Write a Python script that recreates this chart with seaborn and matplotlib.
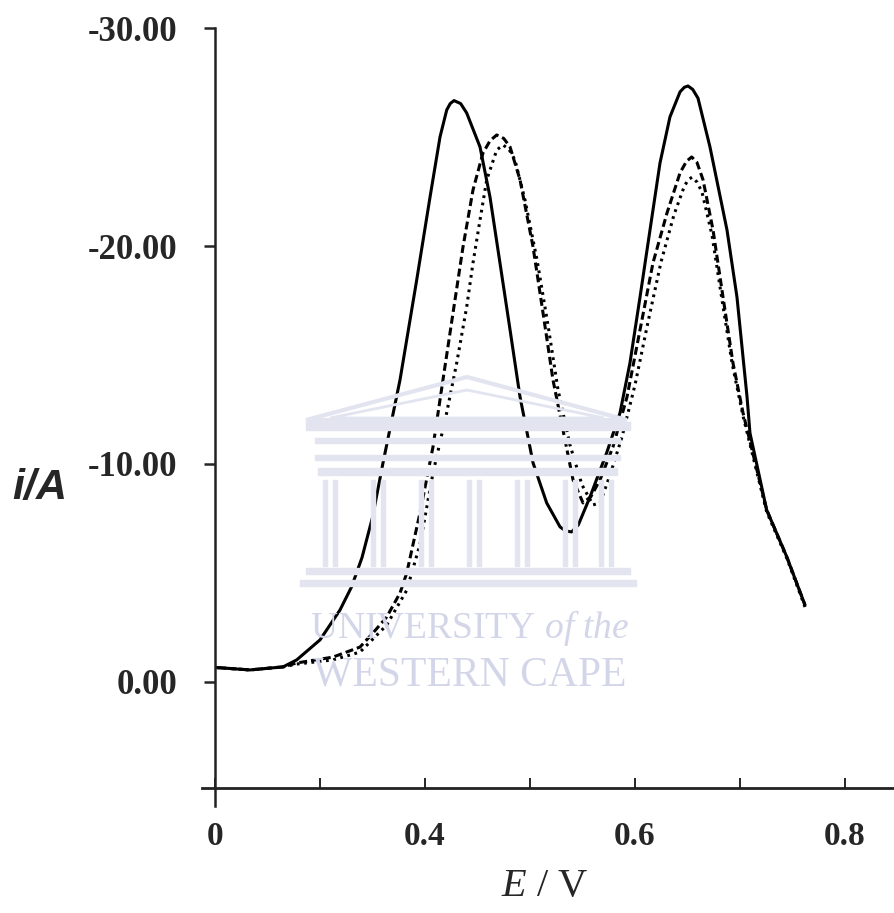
import numpy as np
import pandas as pd
import matplotlib
matplotlib.use('Agg')
import matplotlib.pyplot as plt
from matplotlib.patches import Polygon, Rectangle
import seaborn as sns

# ── Data (E in V, i in A) ────────────────────────────────────────────────────
E_solid = [0.2016, 0.2333, 0.2648, 0.2778, 0.3000, 0.3190, 0.3300, 0.3400,
           0.3500, 0.3600, 0.3762, 0.3921, 0.4048, 0.4143, 0.4207, 0.4240,
           0.4276, 0.4340, 0.4397, 0.4524, 0.4619, 0.4714, 0.4810, 0.4905,
           0.5029, 0.5159, 0.5286, 0.5340, 0.5397, 0.5460, 0.5571, 0.5730,
           0.5857, 0.5952, 0.6048, 0.6143, 0.6238, 0.6333, 0.6429, 0.6470,
           0.6505, 0.6550, 0.6600, 0.6714, 0.6876, 0.6971, 0.7067, 0.7095,
           0.7254, 0.7445, 0.7619]
i_solid = [-0.65, -0.54, -0.68, -1.00, -1.92, -3.29, -4.35, -5.70,
           -7.55, -10.05, -13.86, -18.45, -22.26, -25.02, -26.26, -26.55,
           -26.69, -26.55, -26.12, -24.56, -22.26, -19.23, -16.16, -13.08,
           -10.05, -8.21, -7.11, -6.92, -6.88, -7.20, -8.48, -10.51,
           -12.34, -14.64, -17.67, -20.75, -23.82, -25.94, -27.09, -27.30,
           -27.36, -27.20, -26.80, -24.56, -20.75, -17.67, -13.08, -11.42,
           -7.89, -5.74, -3.52]

E_dash = [0.2016, 0.2333, 0.2648, 0.2778, 0.3124, 0.3381, 0.3505, 0.3635,
          0.3762, 0.3826, 0.3952, 0.4076, 0.4171, 0.4267, 0.4362, 0.4457,
          0.4552, 0.4620, 0.4683, 0.4750, 0.4810, 0.4905, 0.5029, 0.5124,
          0.5219, 0.5314, 0.5410, 0.5505, 0.5580, 0.5667, 0.5790, 0.5924,
          0.6048, 0.6171, 0.6305, 0.6429, 0.6490, 0.6540, 0.6590, 0.6648,
          0.6743, 0.6838, 0.6933, 0.7029, 0.7254, 0.7445, 0.7619]
i_dash = [-0.65, -0.54, -0.68, -0.86, -1.13, -1.59, -2.24, -2.97,
          -4.07, -4.99, -7.75, -10.78, -13.86, -16.94, -19.97, -22.58,
          -24.28, -24.85, -25.11, -24.95, -24.56, -23.05, -19.97, -16.94,
          -13.86, -11.56, -9.27, -8.21, -8.50, -9.27, -10.78, -13.08,
          -16.16, -19.23, -21.53, -23.37, -23.90, -24.10, -23.85, -23.05,
          -20.75, -17.67, -14.64, -12.34, -7.89, -5.74, -3.52]

E_dot = [0.2016, 0.2333, 0.2648, 0.2778, 0.3124, 0.3381, 0.3635, 0.3826,
         0.3952, 0.4076, 0.4206, 0.4302, 0.4397, 0.4457, 0.4524, 0.4588,
         0.4683, 0.4743, 0.4800, 0.4857, 0.4952, 0.5067, 0.5171, 0.5267,
         0.5381, 0.5495, 0.5600, 0.5667, 0.5762, 0.5876, 0.6000, 0.6124,
         0.6248, 0.6371, 0.6467, 0.6505, 0.6543, 0.6590, 0.6638, 0.6733,
         0.6829, 0.6924, 0.7029, 0.7254, 0.7445, 0.7619]
i_dot = [-0.65, -0.54, -0.68, -0.81, -1.00, -1.36, -2.60, -4.20,
         -6.30, -9.58, -12.34, -14.64, -17.21, -19.23, -21.21, -23.05,
         -24.42, -24.65, -24.45, -23.96, -22.13, -19.37, -16.39, -13.40,
         -10.87, -9.04, -8.12, -8.21, -9.49, -11.24, -13.63, -16.52,
         -19.28, -21.44, -22.72, -23.05, -23.17, -22.95, -22.49, -20.52,
         -17.53, -14.64, -12.20, -7.80, -5.68, -3.43]

x_ticks = [0.2, 0.3, 0.4, 0.5, 0.6, 0.7, 0.8]
x_labels = ['0', '', '0.4', '', '0.6', '', '0.8']
y_ticks = [-30, -20, -10, 0]
y_labels = ['-30.00', '-20.00', '-10.00', '0.00']

# ── Style ─────────────────────────────────────────────────────────────────────
sns.set_style('white')
plt.rcParams['font.family'] = ['Liberation Serif', 'DejaVu Serif']
plt.rcParams['mathtext.fontset'] = 'custom'
plt.rcParams['mathtext.rm'] = 'Liberation Serif'
plt.rcParams['mathtext.it'] = 'Liberation Serif:italic'

W, H = 894, 913
fig = plt.figure(figsize=(W / 100, H / 100), dpi=100)

def px(x, y):
    return (x / W, 1 - y / H)

# ── Faint watermark (university logo) ────────────────────────────────────────
wm = '#e2e4f0'
wm_txt = '#d3d6e8'
def frect(x0, y0, x1, y1):
    fig.patches.append(Rectangle(px(x0, y1), (x1 - x0) / W, (y1 - y0) / H,
                                 transform=fig.transFigure, color=wm, zorder=0))

fig.patches.append(Polygon([px(306, 420), px(467, 377), px(627, 420)], closed=True,
                           fill=False, edgecolor=wm, lw=3, transform=fig.transFigure, zorder=0))
fig.patches.append(Polygon([px(330, 418), px(467, 390), px(604, 418)], closed=True,
                           fill=False, edgecolor=wm, lw=2, transform=fig.transFigure, zorder=0))
frect(306, 422, 630, 430)
frect(315, 438, 620, 443)
frect(315, 455, 620, 460)
frect(318, 468, 617, 475)
for cx in [330, 378, 426, 474, 522, 570, 606]:
    frect(cx - 7, 480, cx - 3, 566)
    frect(cx + 3, 480, cx + 7, 566)
frect(306, 568, 630, 574)
frect(300, 580, 636, 586)

fig.text(*px(470, 628), 'UNIVERSITY $\\it{of\\ the}$', fontsize=27, color=wm_txt,
         ha='center', va='center', zorder=0)
fig.text(*px(470, 675), 'WESTERN CAPE', fontsize=30, color=wm_txt,
         ha='center', va='center', zorder=0)

# ── Axes ──────────────────────────────────────────────────────────────────────
ax = fig.add_axes([202 / W, 1 - 805.8 / H, 692 / W, (805.8 - 28.5) / H])
ax.patch.set_alpha(0)

sns.lineplot(x=E_solid, y=i_solid, ax=ax, color='black', lw=2.2, linestyle='-')
sns.lineplot(x=E_dash, y=i_dash, ax=ax, color='black', lw=2.2, linestyle=(0, (2.6, 1.3)))
sns.lineplot(x=E_dot, y=i_dot, ax=ax, color='black', lw=2.2, linestyle=(0, (0.9, 1.5)))

ax.set_xlim(0.2 - 13 / 1050, 0.2 + 679 / 1050)
ax.set_ylim(5.70, -30)

for s in ['top', 'right']:
    ax.spines[s].set_visible(False)
ax.spines['left'].set_position(('data', 0.2))
ax.spines['bottom'].set_position(('data', 4.86))
ax.spines['left'].set_linewidth(1.8)
ax.spines['bottom'].set_linewidth(2.0)
ax.spines['left'].set_color('#222222')
ax.spines['bottom'].set_color('#222222')

ax.set_xticks(x_ticks)
ax.set_xticklabels(x_labels, fontsize=24, fontweight='bold')
ax.set_yticks(y_ticks)
ax.set_yticklabels(y_labels, fontsize=25, fontweight='bold')
ax.tick_params(axis='y', direction='out', length=8, width=1.8, pad=19, left=True)
ax.tick_params(axis='x', direction='in', length=7, width=1.4, pad=24, bottom=True)

ax.set_xlabel('')
ax.set_ylabel('')
fig.text(*px(545, 886), '$E$ / V', fontsize=29, ha='center', va='center')
fig.text(*px(40, 488), 'i/A', fontsize=31, ha='center', va='center',
         family=['Liberation Sans', 'DejaVu Sans'], style='italic', weight='bold')

fig.savefig('out.png', dpi=100)
